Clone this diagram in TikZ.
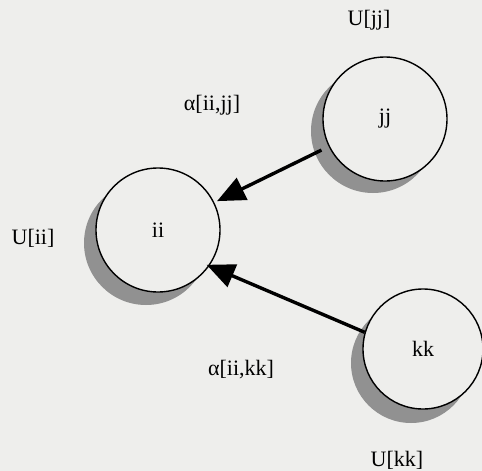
\documentclass[tikz,border=0pt]{standalone}
\usepackage{fontspec}
\setmainfont{Liberation Serif}
\usetikzlibrary{arrows.meta}
\definecolor{paper}{RGB}{238,238,236}
\definecolor{shade}{RGB}{145,145,145}
\begin{document}
\begin{tikzpicture}[x=1pt,y=-1pt,
  cluster/.style={circle, draw=black, line width=1.4pt, fill=paper,
    minimum size=124pt, inner sep=0pt, font=\fontsize{22}{25}\selectfont},
  shadowdisc/.style={fill=shade},
  tag/.style={font=\fontsize{22}{25}\selectfont, inner sep=0pt},
  link/.style={line width=3.4pt, -{Triangle[length=28pt,width=24pt]}},
]
\fill[paper] (0,0) rectangle (482,471);
\useasboundingbox (0,0) rectangle (482,471);

% drop shadows, offset down and to the left
\fill[shadowdisc] (373,131) circle (62pt);
\fill[shadowdisc] (146,243) circle (62pt);
\fill[shadowdisc] (411,363) circle (60pt);

% clusters
\node[cluster] (jj) at (385,119) {jj};
\node[cluster] (ii) at (158,230) {ii};
\node[cluster, minimum size=120pt] (kk) at (423,349) {kk};

% labels
\node[tag] (ujj) at (369,20) {U[jj]};
\node[tag] (uii) at (33,238) {U[ii]};
\node[tag] (ukk) at (397,460) {U[kk]};
\node[tag] (aij) at (212,105) {α[ii,jj]};
\node[tag] (aik) at (241,370) {α[ii,kk]};

% collaboration links
\draw[link, shorten <=8pt, shorten >=3pt] (jj) -- (ii);
\draw[link, shorten >=-3pt] (kk.164) -- (ii.-35);
\end{tikzpicture}
\end{document}
